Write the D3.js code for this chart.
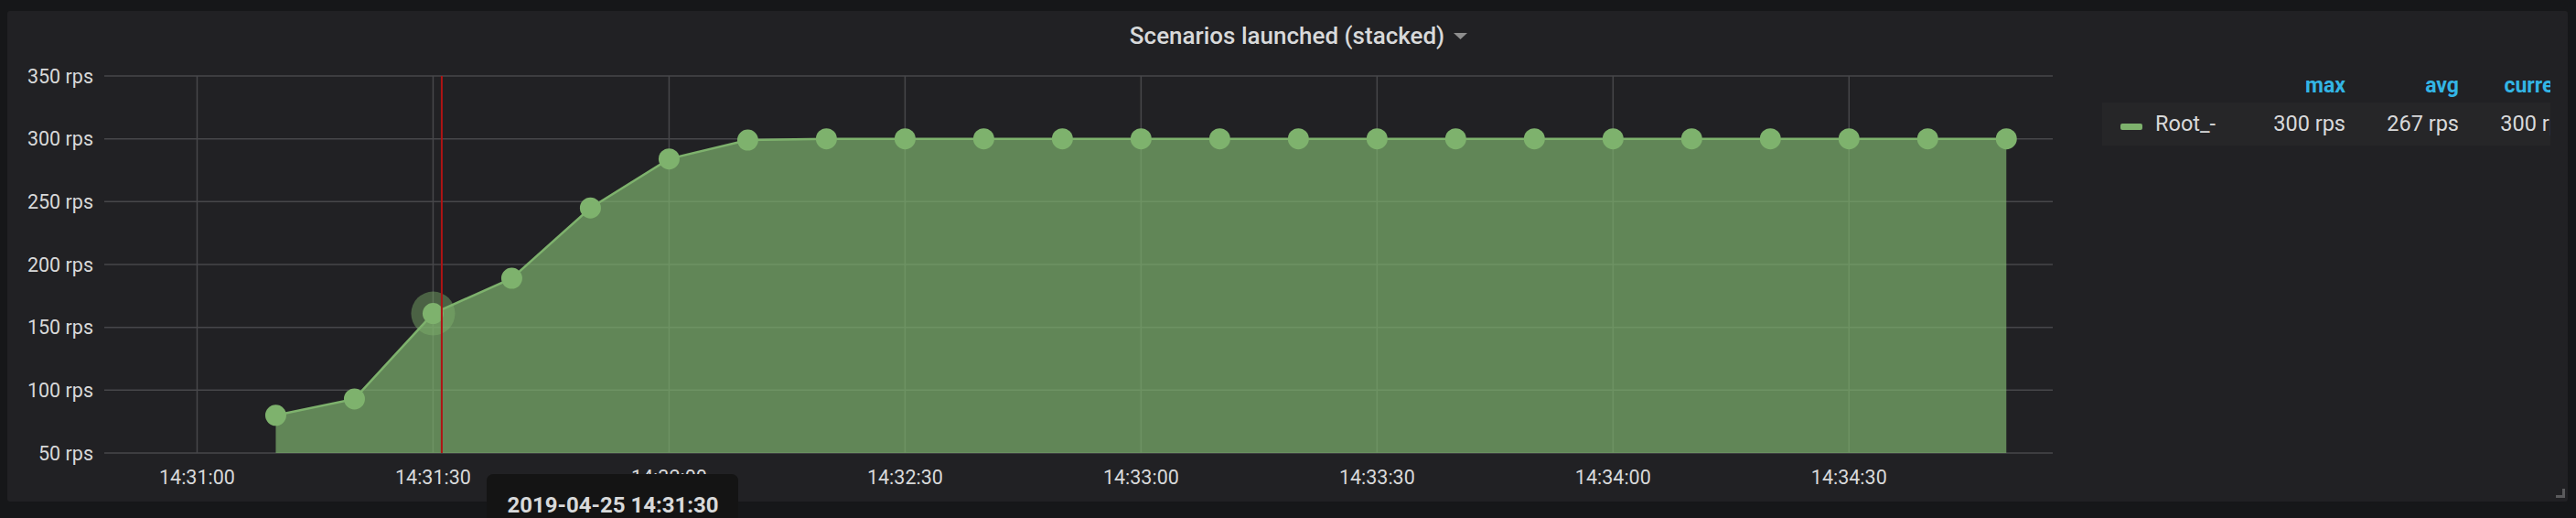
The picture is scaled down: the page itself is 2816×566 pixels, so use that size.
<!DOCTYPE html>
<html><head><meta charset="utf-8">
<script src="https://cdn.jsdelivr.net/npm/d3@7"></script>
<style>
html,body{margin:0;padding:0;background:#161719;}
svg{display:block;font-family:Roboto,"Noto Sans",sans-serif;}
</style></head>
<body>
<svg id="chart" width="2816" height="566"></svg>
<script>
// ---- data ----
const title = "Scenarios launched (stacked)";
const seriesName = "Root_-";
const times = ["14:31:10","14:31:20","14:31:30","14:31:40","14:31:50","14:32:00","14:32:10","14:32:20","14:32:30","14:32:40","14:32:50","14:33:00","14:33:10","14:33:20","14:33:30","14:33:40","14:33:50","14:34:00","14:34:10","14:34:20","14:34:30","14:34:40","14:34:50"];
const values = [80,93,161,189,245,284,299,300,300,300,300,300,300,300,300,300,300,300,300,300,300,300,300];
const yTicks = [50,100,150,200,250,300,350];
const xTickLabels = ["14:31:00","14:31:30","14:32:00","14:32:30","14:33:00","14:33:30","14:34:00","14:34:30"];
const legendHeaders = ["max","avg","current"];
const legendValues = ["300 rps","267 rps","300 rps"];
const hoverTime = "14:31:30";
const crosshairTime = "14:31:31.1";
const tooltipText = "2019-04-25 14:31:30";
const timeDomain = ["14:30:48.2","14:34:55.9"];

// ---- helpers ----
const parseT = s => { const [h,m,sec] = s.split(":"); return new Date(2019,3,25,+h,+m,0, Math.round(parseFloat(sec)*1000)); };

const svg = d3.select("#chart");

// panel
svg.append("rect").attr("x",8).attr("y",12).attr("width",2799).attr("height",536).attr("rx",3).attr("fill","#212124");

// title
svg.append("text").attr("x",1407).attr("y",48).attr("text-anchor","middle")
  .attr("font-size",26).attr("font-weight",500).attr("fill","#d8d9da").text(title);
svg.append("path").attr("d","M1589,36 L1604,36 L1596.5,43 Z").attr("fill","#8e8e8e");

const plot = {l:114, r:2244, t:83, b:495};
const x = d3.scaleTime().domain(timeDomain.map(parseT)).range([plot.l, plot.r]);
const y = d3.scaleLinear().domain([50,350]).range([plot.b, plot.t]);

const data = times.map((t,i)=>({t:parseT(t), v:values[i]}));

// grid
const g = svg.append("g");
g.selectAll(".hg").data(yTicks).join("line")
  .attr("x1",plot.l).attr("x2",plot.r).attr("y1",d=>y(d)).attr("y2",d=>y(d))
  .attr("stroke","#47474a").attr("stroke-width",1.5);
const xTickDates = xTickLabels.map(parseT);
g.selectAll(".vg").data(xTickDates).join("line")
  .attr("x1",d=>x(d)).attr("x2",d=>x(d)).attr("y1",plot.t).attr("y2",plot.b)
  .attr("stroke","#47474a").attr("stroke-width",1.5);

// y labels
svg.append("g").selectAll("text").data(yTicks).join("text")
  .attr("x",102).attr("y",d=>y(d)).attr("dy","0.35em").attr("text-anchor","end")
  .attr("font-size",21.5).attr("fill","#d8d9da").text(d=>d+" rps");
// x labels
svg.append("g").selectAll("text").data(xTickDates).join("text")
  .attr("x",d=>x(d)).attr("y",529).attr("text-anchor","middle")
  .attr("font-size",21.5).attr("fill","#d8d9da").text((d,i)=>xTickLabels[i]);

// area
const area = d3.area().x(d=>x(d.t)).y0(y(50)).y1(d=>y(d.v));
svg.append("path").datum(data).attr("d",area).attr("fill","#7eb26d").attr("fill-opacity",0.7);
const line = d3.line().x(d=>x(d.t)).y(d=>y(d.v));
svg.append("path").datum(data).attr("d",line).attr("fill","none").attr("stroke","#7eb26d").attr("stroke-width",2.5);

// hover halo
const hd = data.find(d=>+d.t===+parseT(hoverTime));
svg.append("circle").attr("cx",x(hd.t)).attr("cy",y(hd.v)).attr("r",24).attr("fill","#7eb26d").attr("fill-opacity",0.45);

// points
svg.append("g").selectAll("circle").data(data).join("circle")
  .attr("cx",d=>x(d.t)).attr("cy",d=>y(d.v)).attr("r",11.5).attr("fill","#7eb26d");

// crosshair
const cx = x(parseT(crosshairTime));
svg.append("line").attr("x1",cx).attr("x2",cx).attr("y1",plot.t).attr("y2",plot.b)
  .attr("stroke","#b01414").attr("stroke-width",2);

// legend
const lg = svg.append("g");
svg.append("clipPath").attr("id","lclip").append("rect").attr("x",2290).attr("y",60).attr("width",498).attr("height",120);
const lgc = lg.append("g").attr("clip-path","url(#lclip)");
lgc.append("rect").attr("x",2298).attr("y",112).attr("width",500).attr("height",47).attr("fill","#262628");
const colRight = [2564, 2688, 2812];
lgc.selectAll(".hdr").data(legendHeaders).join("text")
  .attr("x",(d,i)=>colRight[i]).attr("y",101).attr("text-anchor","end")
  .attr("font-size",23).attr("font-weight",700).attr("fill","#33b5e5").text(d=>d);
lgc.append("rect").attr("x",2318).attr("y",135).attr("width",24).attr("height",7).attr("rx",2).attr("fill","#7eb26d");
lgc.append("text").attr("x",2356).attr("y",143).attr("font-size",23.5).attr("fill","#d8d9da").text(seriesName);
lgc.selectAll(".val").data(legendValues).join("text")
  .attr("x",(d,i)=>colRight[i]).attr("y",143).attr("text-anchor","end")
  .attr("font-size",23.5).attr("fill","#d8d9da").text(d=>d);

// resize corner
svg.append("path").attr("d","M2801,534 L2804,534 L2804,544 L2794,544 L2794,541 L2801,541 Z").attr("fill","#5a5a5c");

// tooltip
svg.append("path").attr("d","M532,566 L532,526 Q532,518 540,518 L799,518 Q807,518 807,526 L807,566 Z").attr("fill","#141414");
svg.append("text").attr("x",670).attr("y",560).attr("text-anchor","middle")
  .attr("font-size",24).attr("font-weight",700).attr("fill","#d8d9da").text(tooltipText);
</script>
</body></html>
